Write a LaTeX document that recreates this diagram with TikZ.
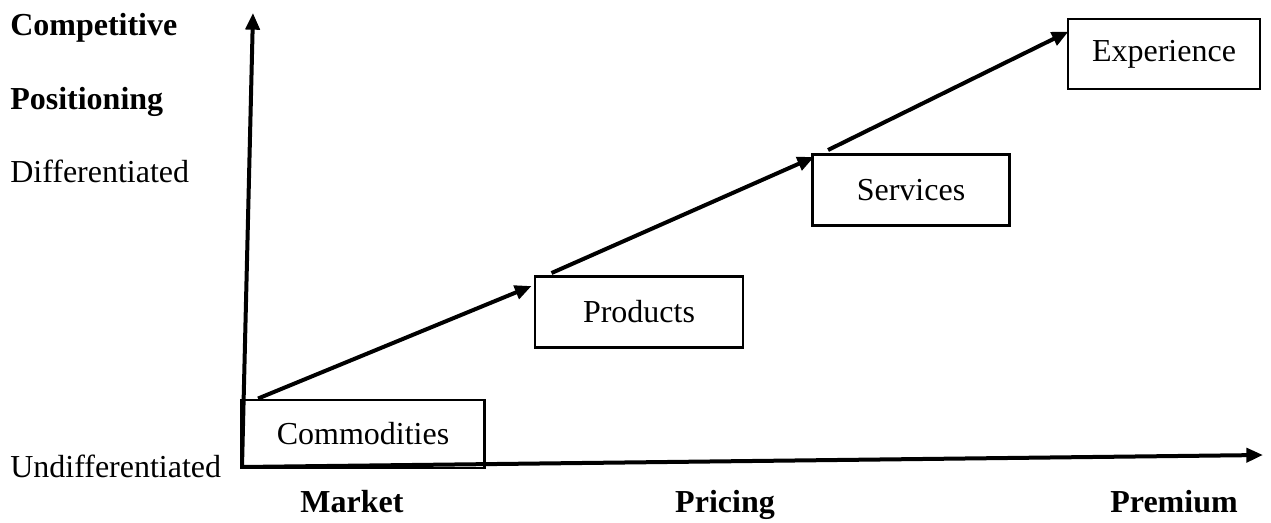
\documentclass[tikz,border=0pt]{standalone}
\usepackage{fontspec}
\setmainfont{Liberation Serif}
\usetikzlibrary{arrows.meta,calc}
\begin{document}
\begin{tikzpicture}[x=0.75pt,y=-0.75pt,
  stagebox/.style={draw,line width=2.2pt,rectangle,inner sep=0pt,font=\fontsize{24}{28}\selectfont},
  lbl/.style={anchor=base west,inner sep=0pt,font=\fontsize{24}{28}\selectfont},
  blbl/.style={anchor=base,inner sep=0pt,font=\fontsize{24}{28}\selectfont\bfseries},
  axis/.style={line width=3pt,-{Triangle[length=12.5pt,width=10.5pt]}},
  flow/.style={line width=3pt,-{Triangle[length=12.5pt,width=10.5pt]}}]
\useasboundingbox (0,0) rectangle (1271,523);

% axes
\coordinate (origin) at (242,467);
\coordinate (ytop) at (253,13);
\coordinate (xend) at (1263,455);
\draw[axis] (origin) -- (ytop);
\draw[axis] (origin) -- (xend);

% stages
\node[stagebox,minimum width=243pt*0.75,minimum height=68pt*0.75] (com) at (363,434) {\raisebox{-2pt}{Commodities}};
\node[stagebox,minimum width=208pt*0.75,minimum height=71pt*0.75] (pro) at (639,312) {\raisebox{-2pt}{Products}};
\node[stagebox,minimum width=197pt*0.75,minimum height=71pt*0.75] (ser) at (911,190) {\raisebox{-2pt}{Services}};
\node[stagebox,minimum width=192pt*0.75,minimum height=70pt*0.75] (exp) at (1164,54) {\raisebox{-1pt}{Experience}};

% progression arrows
\draw[flow] ($(com.north west)+(18,0)$) -- ($(pro.north west)+(-2,11)$);
\draw[flow] ($(pro.north west)+(18,-2)$) -- ($(ser.north west)+(3,4)$);
\draw[flow] ($(ser.north west)+(17,-3)$) -- ($(exp.north west)+(2,14)$);

% axis labels
\node[lbl,font=\fontsize{24}{28}\selectfont\bfseries] (t1) at (10,36) {Competitive};
\node[lbl,font=\fontsize{24}{28}\selectfont\bfseries] (t2) at (10,110) {Positioning};
\node[lbl] (dif) at (10,183) {Differentiated};
\node[lbl] (und) at (10,478) {Undifferentiated};
\node[blbl] (mkt) at (352,513) {Market};
\node[blbl] (prc) at (725,513) {Pricing};
\node[blbl] (prm) at (1174,513) {Premium};
\end{tikzpicture}
\end{document}
